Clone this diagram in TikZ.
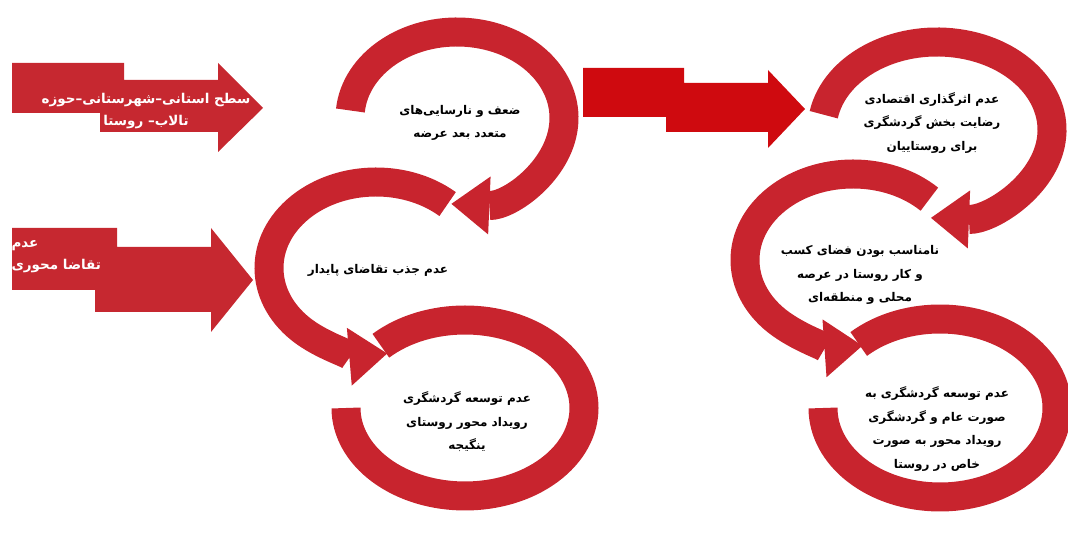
\documentclass[tikz,border=0pt]{standalone}
\usepackage{fontspec}
\usepackage{xcolor}
\usepackage{tikz}
\usetikzlibrary{arrows.meta}
\TeXXeTstate=1
\newfontfamily\arabicfont[Script=Arabic]{DejaVu Sans}
\definecolor{ringred}{HTML}{C8242E}
\definecolor{blockred}{HTML}{C62830}
\definecolor{brightred}{HTML}{CF0A0F}

\begin{document}
\begin{tikzpicture}[x=1pt, y=1pt,
    ring/.style={draw=ringred, line width=29pt},
    ringarrow/.style={ring, -{Triangle[length=38pt, width=58pt, line width=0pt]}},
    ringtext/.style={font=\arabicfont\bfseries\fontsize{12}{23.5}\selectfont, align=center, text=black},
    blocktext/.style={font=\arabicfont\bfseries\fontsize{13.5}{22}\selectfont, text=white}]
  \useasboundingbox (0,0) rectangle (1068,540);

  % ring centres
  \coordinate (c1) at (457,422);
  \coordinate (c2) at (376,272);
  \coordinate (c3) at (465,132);
  \coordinate (c4) at (937,410);
  \coordinate (c5) at (853,280);
  \coordinate (c6) at (940,132);

  % left column
  \draw[ring] ([shift={(135:119pt and 88pt)}]c3) arc[start angle=135, end angle=-180, x radius=119pt, y radius=88pt];
  \draw[ringarrow] ([shift={(48:107pt and 86pt)}]c2) arc[start angle=48, end angle=276, x radius=107pt, y radius=86pt];
  \draw[ringarrow] ([shift={(175:107pt and 86pt)}]c1) arc[start angle=175, end angle=-93, x radius=107pt, y radius=86pt];

  % right column
  \draw[ring] ([shift={(134:117pt and 89pt)}]c6) arc[start angle=134, end angle=-180, x radius=117pt, y radius=89pt];
  \draw[ringarrow] ([shift={(45:108pt and 86pt)}]c5) arc[start angle=45, end angle=275, x radius=108pt, y radius=86pt];
  \draw[ringarrow] ([shift={(170:115pt and 88pt)}]c4) arc[start angle=170, end angle=-93, x radius=115pt, y radius=88pt];

  % block arrows
  \fill[blockred] (12,477) -- (124,477) -- (124,460) -- (218,460) -- (218,477) -- (263,432)
    -- (218,388) -- (218,408) -- (100,408) -- (100,427) -- (12,427) -- cycle;
  \fill[blockred] (12,312) -- (117,312) -- (117,293) -- (211,293) -- (211,312) -- (253,260)
    -- (211,208) -- (211,228) -- (95,228) -- (95,250) -- (12,250) -- cycle;
  \fill[brightred] (583,472) -- (684,472) -- (684,457) -- (768,457) -- (768,470) -- (805,431)
    -- (768,392) -- (768,408) -- (666,408) -- (666,423) -- (583,423) -- cycle;

  % texts
  \node[blocktext, align=center] (level) at (146,429)
    {\beginR سطح استانی–شهرستانی–حوزه\endR\\\beginR تالاب– روستا\endR};
  \node[blocktext, align=left, anchor=west] (demand) at (8,283)
    {\beginR عدم\endR\\\beginR تقاضا محوری\endR};

  \node[ringtext] (weak) at (460,417)
    {\beginR ضعف و نارسایی‌های\endR\\\beginR متعدد بعد عرضه\endR};
  \node[ringtext] (attract) at (378,270)
    {\beginR عدم جذب تقاضای پایدار\endR};
  \node[ringtext] (event) at (467,118)
    {\beginR عدم توسعه گردشگری\endR\\\beginR رویداد محور روستای\endR\\\beginR ینگیجه\endR};
  \node[ringtext] (econ) at (932,417)
    {\beginR عدم اثرگذاری اقتصادی\endR\\\beginR رضایت بخش گردشگری\endR\\\beginR برای روستاییان\endR};
  \node[ringtext] (business) at (860,265)
    {\beginR نامناسب بودن فضای کسب\endR\\\beginR و کار روستا در عرصه\endR\\\beginR محلی و منطقه‌ای\endR};
  \node[ringtext] (general) at (937,111)
    {\beginR عدم توسعه گردشگری به\endR\\\beginR صورت عام و گردشگری\endR\\\beginR رویداد محور به صورت\endR\\\beginR خاص در روستا\endR};
\end{tikzpicture}
\end{document}
